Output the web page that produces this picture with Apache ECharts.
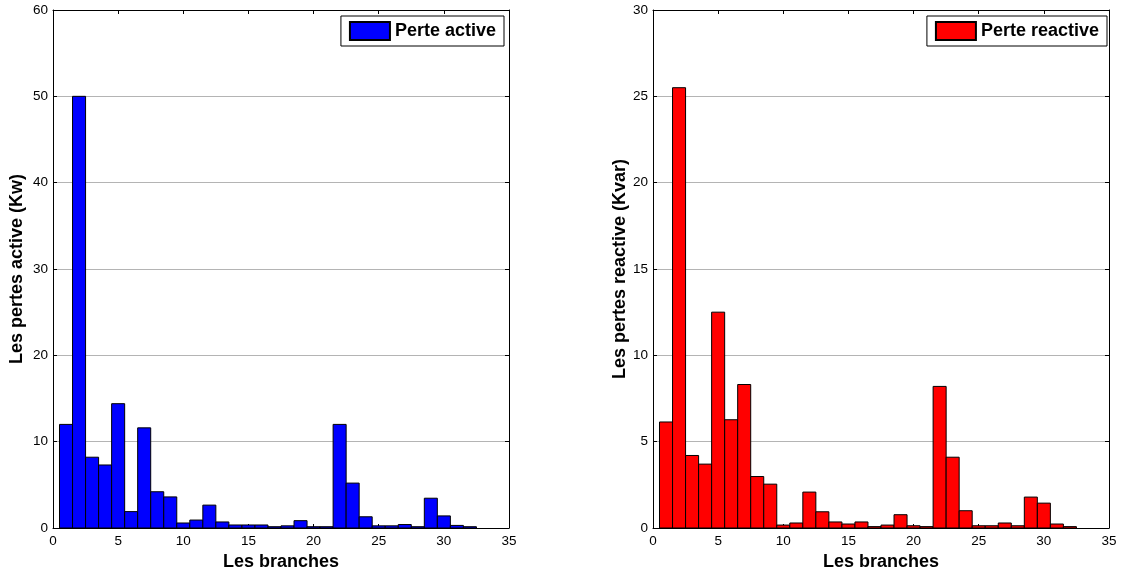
<!DOCTYPE html>
<html><head><meta charset="utf-8">
<script src="https://cdn.jsdelivr.net/npm/echarts@6/dist/echarts.min.js"></script>
<style>html,body{margin:0;padding:0;background:#fff}#c{width:1122px;height:576px}</style>
</head><body><div id="c"></div>
<script>
const branches = [1,2,3,4,5,6,7,8,9,10,11,12,13,14,15,16,17,18,19,20,21,22,23,24,25,26,27,28,29,30,31,32];
const perteActive = [12.0,50.0,8.2,7.3,14.4,1.9,11.6,4.2,3.6,0.58,0.92,2.65,0.7,0.35,0.35,0.35,0.15,0.25,0.85,0.15,0.15,12.0,5.2,1.3,0.25,0.25,0.4,0.15,3.45,1.4,0.3,0.15];
const perteReactive = [6.14,25.5,4.2,3.7,12.5,6.27,8.31,2.98,2.54,0.17,0.29,2.08,0.94,0.35,0.23,0.35,0.08,0.17,0.77,0.13,0.08,8.2,4.1,1.0,0.13,0.13,0.29,0.13,1.79,1.44,0.23,0.08];
const xTicks = [0,5,10,15,20,25,30,35];
const FONT = 'Liberation Sans, Arial, sans-serif';
const TITLE_FS = 18, TICK_FS = 13.5;

const chart = echarts.init(document.getElementById('c'));
function renderBar(params, api) {
  const x = api.value(0), y = api.value(1);
  const p0 = api.coord([x - 0.5, y]);
  const p1 = api.coord([x + 0.5, 0]);
  return {type:'rect', shape:{x:p0[0], y:p0[1], width:p1[0]-p0[0], height:p1[1]-p0[1]},
    style:{fill:api.visual('color'), stroke:'#000', lineWidth:1}};
}
const axLine = {show:true, onZero:false, lineStyle:{color:'#000', width:1}};
const axTick = {show:true, inside:true, length:4, lineStyle:{color:'#000'}};
function mkX(gi, name) {
  return [{gridIndex:gi, type:'value', min:xTicks[0], max:xTicks[xTicks.length-1], interval:5, position:'bottom',
    name:name, nameLocation:'middle', nameGap:24,
    nameTextStyle:{fontFamily:FONT, fontWeight:'bold', fontSize:TITLE_FS, color:'#000'},
    axisLine:axLine, axisTick:axTick,
    axisLabel:{fontFamily:FONT, fontSize:TICK_FS, color:'#000', margin:6}, splitLine:{show:false}},
   {gridIndex:gi, type:'value', min:xTicks[0], max:xTicks[xTicks.length-1], interval:5, position:'top',
    axisLine:axLine, axisTick:axTick, axisLabel:{show:false}, splitLine:{show:false}}];
}
function mkY(gi, max, interval, name, gap) {
  return [{gridIndex:gi, type:'value', min:0, max:max, interval:interval, position:'left',
    name:name, nameLocation:'middle', nameGap:gap,
    nameTextStyle:{fontFamily:FONT, fontWeight:'bold', fontSize:TITLE_FS, color:'#000'},
    axisLine:axLine, axisTick:axTick,
    axisLabel:{fontFamily:FONT, fontSize:TICK_FS, color:'#000', margin:5},
    splitLine:{show:true, lineStyle:{color:'#b4b4b4', width:1}}},
   {gridIndex:gi, type:'value', min:0, max:max, interval:interval, position:'right',
    axisLine:axLine, axisTick:axTick, axisLabel:{show:false}, splitLine:{show:false}}];
}
const legendCommon = {orient:'vertical', icon:'rect', itemWidth:40, itemHeight:18, itemGap:0,
  padding:[5,8,5,8], borderColor:'#000', borderWidth:1, backgroundColor:'#fff',
  textStyle:{fontFamily:FONT, fontWeight:'bold', fontSize:TITLE_FS, color:'#000'}};
chart.setOption({
  animation:false,
  grid:[{left:53, top:10, width:456, height:518},{left:653, top:10, width:456, height:518}],
  xAxis:[...mkX(0,'Les branches'), ...mkX(1,'Les branches')],
  yAxis:[...mkY(0,60,10,'Les pertes active (Kw)',27), ...mkY(1,30,5,'Les pertes reactive (Kvar)',24)],
  legend:[Object.assign({data:['Perte active'], right:1122-504, top:16}, legendCommon),
          Object.assign({data:['Perte reactive'], right:1122-1107, top:16}, legendCommon)],
  series:[
    {name:'Perte active', type:'custom', xAxisIndex:0, yAxisIndex:0, renderItem:renderBar,
     itemStyle:{color:'#0000ff', borderColor:'#000', borderWidth:1},
     encode:{x:0,y:1}, data:branches.map((b,i)=>[b,perteActive[i]])},
    {name:'Perte reactive', type:'custom', xAxisIndex:2, yAxisIndex:2, renderItem:renderBar,
     itemStyle:{color:'#ff0000', borderColor:'#000', borderWidth:1},
     encode:{x:0,y:1}, data:branches.map((b,i)=>[b,perteReactive[i]])}
  ]
});
</script></body></html>
